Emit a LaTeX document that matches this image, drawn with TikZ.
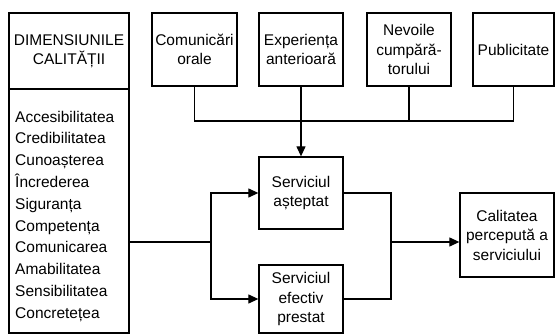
\documentclass[tikz,border=0pt]{standalone}
\usepackage{fontspec}
\setmainfont{Liberation Sans}
\usetikzlibrary{arrows.meta}
\begin{document}
\begin{tikzpicture}[x=1pt,y=-1pt,
  box/.style={draw,line width=1.3pt,rectangle,inner sep=0.5pt,align=center,
    font=\fontsize{15.5}{19.5}\selectfont},
  conn/.style={line width=1.2pt},
  arr/.style={line width=1.2pt,-{Triangle[length=10pt,width=9pt]}}]
\useasboundingbox (0,0) rectangle (555,334);
% left box
\node[box,minimum width=120pt,minimum height=76pt] (dimhead) at (69,51) {DIMENSIUNILE\\CALITĂȚII};
\node[box,minimum width=120pt,minimum height=244pt] (dimbox) at (69,211) {};
\node[anchor=north west,align=left,inner sep=0pt,
  font=\fontsize{15.5}{21.8}\selectfont] (dimtext) at (15,110.7)
  {Accesibilitatea\\Credibilitatea\\Cunoașterea\\Încrederea\\Siguranța\\Competența\\Comunicarea\\Amabilitatea\\Sensibilitatea\\Concretețea};
% top boxes
\node[box,minimum width=85pt,minimum height=73pt] (com) at (194.5,49.5) {Comunicări\\orale};
\node[box,minimum width=84pt,minimum height=73pt] (exp) at (301,49.5) {Experiența\\anterioară};
\node[box,minimum width=84pt,minimum height=73pt] (nev) at (409,49.5) {Nevoile\\cumpără-\\torului};
\node[box,minimum width=81pt,minimum height=73pt] (pub) at (513.5,49.5) {Publicitate};
% middle
\node[box,minimum width=84pt,minimum height=72pt] (ast) at (301,193) {Serviciul\\așteptat};
\node[box,minimum width=84pt,minimum height=68pt] (efe) at (301,299) {Serviciul\\efectiv\\prestat};
\node[box,minimum width=94pt,minimum height=84pt] (cal) at (507,235) {Calitatea\\percepută a\\serviciului};
% connectors
\coordinate (bus) at (0,121);
\coordinate (split) at (211,242);
\coordinate (merge) at (391,242);
\draw[conn] (com.south) -- (com.south |- bus) -- (pub.south |- bus) -- (pub.south);
\draw[conn] (nev.south) -- (nev.south |- bus);
\draw[arr] (exp.south) -- (ast.north);
\draw[conn] (dimbox.east |- split) -- (split);
\draw[arr] (split) |- (ast.west);
\draw[arr] (split) |- (efe.west);
\draw[conn] (ast.east) -| (merge);
\draw[conn] (efe.east) -| (merge);
\draw[arr] (merge) -- (merge -| cal.west);
\end{tikzpicture}
\end{document}
